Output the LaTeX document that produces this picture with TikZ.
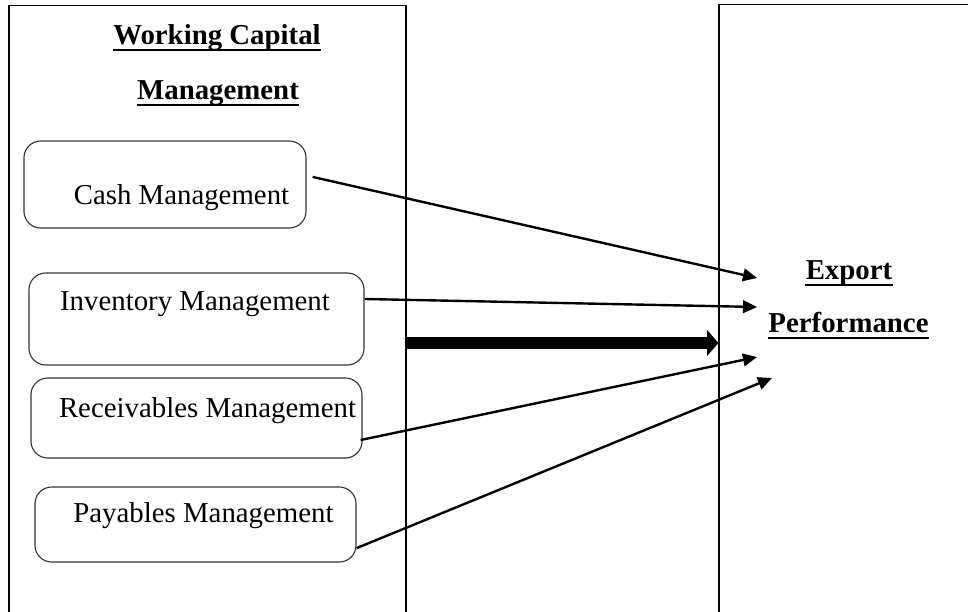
\documentclass[tikz,border=0pt]{standalone}
\usepackage{fontspec}
\setmainfont{Liberation Serif}
\usetikzlibrary{arrows.meta}
\tikzset{
  wcm_font/.style = {font=\fontsize{20.5}{24}\selectfont, inner sep=0pt},
  wcm_head/.style = {inner sep=0pt, font=\fontsize{20.5}{24}\selectfont\bfseries},
  wcm_frame/.style = {draw=black, line width=0.8pt, inner sep=0pt},
  wcm_box/.style = {draw=black!80, line width=0.8pt,
    rounded corners=0.42cm, inner sep=0pt},% rounded factor boxes
  wcm_txt/.style = {wcm_font, anchor=base},
  wcm_ul/.style = {line width=1.7pt},% underline of the headings
  wcm_arr/.style = {-{Triangle[length=10pt,width=9pt]}, line width=1.7pt},
  wcm_big/.style = {-{Triangle[length=8pt,width=18pt]}, line width=9pt}
}

\begin{document}
\begin{tikzpicture}[x=0.025cm, y=-0.025cm]
\clip (0,0) rectangle (968,612);
% outer frames, they run past the lower edge
\node [wcm_frame, minimum width=9.925cm, minimum height=16.1cm] (wcm) at (207.5,328) {};
\node [wcm_frame, minimum width=7.025cm, minimum height=16.125cm] (expo) at (859.5,327.5) {};

\node [wcm_head, anchor=base] (wcm_t1) at (217,44) {Working Capital};
\node [wcm_head, anchor=base] (wcm_t2) at (218,99) {Management};

\node [wcm_box, minimum width=7.05cm, minimum height=2.175cm] (cash) at (165,184.5) {};
\node [wcm_txt] (cash_t) at (181.5,204) {Cash Management};
\node [wcm_box, minimum width=8.375cm, minimum height=2.3cm] (inv) at (196.5,319) {};
\node [wcm_txt] (inv_t) at (195,310) {Inventory Management};
\node [wcm_box, minimum width=8.275cm, minimum height=2cm] (rec) at (196.5,418) {};
\node [wcm_txt] (rec_t) at (207.5,417) {Receivables Management};
\node [wcm_box, minimum width=8.025cm, minimum height=1.875cm] (pay) at (195.5,524.5) {};
\node [wcm_txt] (pay_t) at (203.5,522) {Payables Management};

\node [wcm_head, anchor=base] (ep_t1) at (849,279) {Export};
\node [wcm_head, anchor=base] (ep_t2) at (848.5,332) {Performance};

% underlines
\foreach \t in {wcm_t1, wcm_t2, ep_t1, ep_t2}
  \draw [wcm_ul] ([yshift=-0.15cm]\t.base west) -- ([yshift=-0.15cm]\t.base east);

% arrow ends in front of the label
\coordinate (ep_a) at (757,278);
\coordinate (ep_b) at (757,307);
\coordinate (ep_c) at (757,357);
\coordinate (ep_d) at (772,378);
\coordinate (mid) at (0,343);

\draw [wcm_arr] ([xshift=0.15cm,yshift=0.19cm]cash.east) -- (ep_a);
\draw [wcm_arr] ([yshift=0.5cm]inv.east) -- (ep_b);
\draw [wcm_arr] ([xshift=-0.05cm,yshift=-0.55cm]rec.east) -- (ep_c);
\draw [wcm_arr] ([yshift=-0.59cm]pay.east) -- (ep_d);
\draw [wcm_big] (wcm.east |- mid) -- (expo.west |- mid);
\end{tikzpicture}
\end{document}
